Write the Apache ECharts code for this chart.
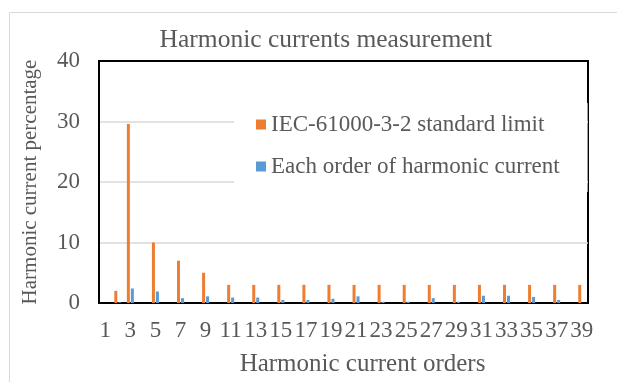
<!DOCTYPE html>
<html>
<head>
<meta charset="utf-8">
<script src="https://cdn.jsdelivr.net/npm/echarts@6/dist/echarts.min.js"></script>
<style>
  html, body { margin: 0; padding: 0; background: #fff; }
  #chart { width: 617px; height: 382px; }
</style>
</head>
<body>
<div id="chart"></div>
<script>
// Harmonic orders 1..39
const orders = ['1','2','3','4','5','6','7','8','9','10','11','12','13','14','15','16','17','18','19','20',
                '21','22','23','24','25','26','27','28','29','30','31','32','33','34','35','36','37','38','39'];

// IEC-61000-3-2 limit per order (% of fundamental)
const limitValues = [null, 2, 29.6, null, 10, null, 7, null, 5, null,
                     3, null, 3, null, 3, null, 3, null, 3, null,
                     3, null, 3, null, 3, null, 3, null, 3, null,
                     3, null, 3, null, 3, null, 3, null, 3];

// Measured harmonic current per order (%)
const measuredValues = [null, 0.1, 2.4, null, 1.9, null, 0.8, null, 1.1, null,
                        0.9, null, 0.9, null, 0.5, null, 0.5, null, 0.7, null,
                        1.1, null, 0.2, null, 0.2, null, 0.8, null, 0.2, null,
                        1.2, null, 1.2, null, 1.0, null, 0.5, null, 0];

const yTicks = [0, 10, 20, 30, 40];

const FONT = '"Liberation Serif", "Times New Roman", serif';
const GREY = '#595959';

const chart = echarts.init(document.getElementById('chart'));
chart.setOption({
  animation: false,
  backgroundColor: '#fff',
  textStyle: { fontFamily: FONT },
  graphic: [{
    type: 'rect',
    left: 7, top: 10,
    shape: { width: 700, height: 500 },
    style: { fill: 'none', stroke: '#D9D9D9', lineWidth: 1 },
    silent: true
  }],
  title: {
    text: 'Harmonic currents measurement',
    left: 321, top: 22,
    textAlign: 'center',
    textStyle: { fontFamily: FONT, fontSize: 25.5, fontWeight: 'normal', color: GREY }
  },
  legend: {
    orient: 'vertical',
    left: 234, top: 103,
    padding: [10, 28, 14, 22],
    backgroundColor: '#fff',
    itemWidth: 10, itemHeight: 10,
    itemGap: 19,
    icon: 'rect',
    textStyle: { fontFamily: FONT, fontSize: 23, color: GREY },
    data: ['IEC-61000-3-2 standard limit', 'Each order of harmonic current']
  },
  grid: {
    left: 99, right: 29, top: 61, bottom: 77,
    show: true, borderColor: '#000', borderWidth: 2
  },
  xAxis: {
    type: 'category',
    data: orders,
    name: 'Harmonic current orders',
    nameLocation: 'middle',
    nameGap: 49,
    nameTextStyle: { fontFamily: FONT, fontSize: 25, color: GREY, padding: [0, 0, 0, 38] },
    axisLine: { show: true, lineStyle: { color: '#000', width: 2 } },
    axisTick: { show: false },
    axisLabel: { interval: 1, margin: 16, fontFamily: FONT, fontSize: 23, color: GREY }
  },
  yAxis: {
    type: 'value',
    min: yTicks[0], max: yTicks[yTicks.length - 1], interval: 10,
    name: 'Harmonic current percentage',
    nameLocation: 'middle',
    nameRotate: 90,
    nameGap: 58,
    nameTextStyle: { fontFamily: FONT, fontSize: 21, color: GREY },
    axisLine: { show: true, lineStyle: { color: '#000', width: 2 } },
    axisTick: { show: false },
    axisLabel: { margin: 19, fontFamily: FONT, fontSize: 23, color: GREY },
    splitLine: { show: true, showMaxLine: false, lineStyle: { color: '#D9D9D9', width: 1.5 } }
  },
  series: [
    {
      name: 'IEC-61000-3-2 standard limit',
      type: 'bar',
      data: limitValues,
      barWidth: 3,
      barGap: '33%',
      itemStyle: { color: '#ED7D31' },
      z: 1
    },
    {
      name: 'Each order of harmonic current',
      type: 'bar',
      data: measuredValues,
      barWidth: 3,
      itemStyle: { color: '#5B9BD5' },
      z: 1
    }
  ]
});
</script>
</body>
</html>
